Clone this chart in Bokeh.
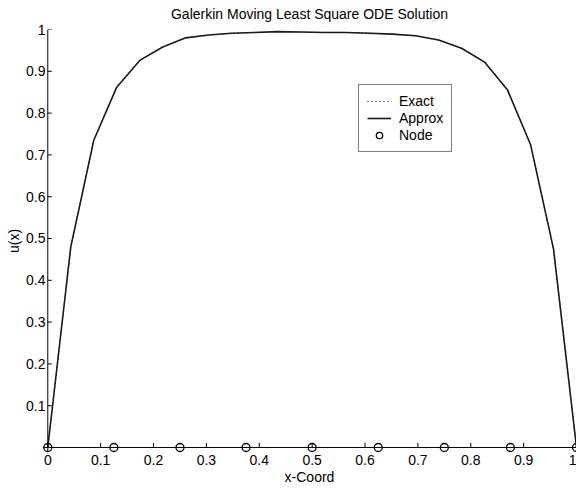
from bokeh.plotting import figure
from bokeh.models import Range1d, FixedTicker, Legend, LegendItem, Span, Title
from bokeh.embed import file_html
from bokeh.resources import INLINE

# ---- data ----
x_coord = [0.0, 0.0435, 0.087, 0.1304, 0.1739, 0.2174, 0.2609, 0.3043,
           0.3478, 0.3913, 0.4348, 0.4783, 0.5217, 0.5652, 0.6087, 0.6522,
           0.6957, 0.7391, 0.7826, 0.8261, 0.8696, 0.9130, 0.9565, 1.0]
approx_u = [0.0, 0.48, 0.735, 0.862, 0.926, 0.958, 0.980, 0.987,
            0.991, 0.993, 0.995, 0.994, 0.993, 0.993, 0.991, 0.989,
            0.985, 0.975, 0.955, 0.922, 0.855, 0.725, 0.475, 0.0]
exact_u = [0.0, 0.48, 0.735, 0.862, 0.926, 0.958, 0.980, 0.987,
           0.991, 0.993, 0.995, 0.994, 0.993, 0.993, 0.991, 0.989,
           0.985, 0.975, 0.955, 0.922, 0.855, 0.725, 0.475, 0.0]
node_x = [0.0, 0.125, 0.25, 0.375, 0.5, 0.625, 0.75, 0.875, 1.0]
node_u = [0.0, 0.0, 0.0, 0.0, 0.0, 0.0, 0.0, 0.0, 0.0]

x_ticks = [0.0, 0.1, 0.2, 0.3, 0.4, 0.5, 0.6, 0.7, 0.8, 0.9, 1.0]
x_tick_labels = ["0", "0.1", "0.2", "0.3", "0.4", "0.5", "0.6", "0.7", "0.8", "0.9", "1"]
y_ticks = [0.1, 0.2, 0.3, 0.4, 0.5, 0.6, 0.7, 0.8, 0.9, 1.0]
y_tick_labels = ["0.1", "0.2", "0.3", "0.4", "0.5", "0.6", "0.7", "0.8", "0.9", "1"]

title_text = "Galerkin Moving Least Square ODE Solution"
x_label = "x-Coord"
y_label = "u(x)"
legend_labels = ["Exact", "Approx", "Node"]

FONT = "Liberation Sans"
X_TICK_LEN = 0.011   # inward tick length (data units, ~5px)
Y_TICK_LEN = 0.0076  # inward tick length (data units, ~4px)

p = figure(width=576, height=490,
           x_range=Range1d(-0.01, 1.0), y_range=Range1d(-0.012, 1.0),
           output_backend="svg", toolbar_location=None,
           min_border_left=42, min_border_right=0,
           min_border_top=29, min_border_bottom=38)

p.title.text = title_text
p.title.align = "center"
p.title.text_font = FONT
p.title.text_font_size = "14px"
p.title.text_font_style = "normal"
p.title.text_color = "black"
p.title.standoff = 0
# empty spacer between the title and the plot frame
p.add_layout(Title(text=" ", text_font_size="6px", standoff=0), "above")

p.xgrid.visible = False
p.ygrid.visible = False
p.outline_line_color = None
p.background_fill_color = "white"
p.border_fill_color = "white"

for ax in (p.xaxis[0], p.yaxis[0]):
    ax.axis_line_color = None
    ax.major_tick_line_color = None
    ax.minor_tick_line_color = None
    ax.major_tick_in = 0
    ax.major_tick_out = 0
    ax.major_label_text_font = FONT
    ax.major_label_text_font_size = "14px"
    ax.major_label_text_color = "black"
    ax.axis_label_text_font = FONT
    ax.axis_label_text_font_size = "14px"
    ax.axis_label_text_font_style = "normal"
    ax.axis_label_text_color = "black"

p.xaxis.ticker = FixedTicker(ticks=x_ticks)
p.xaxis.major_label_overrides = {t: l for t, l in zip(x_ticks, x_tick_labels)}
p.xaxis.major_label_standoff = 2
p.xaxis.axis_label = x_label
p.xaxis.axis_label_standoff = 1
p.yaxis.ticker = FixedTicker(ticks=y_ticks)
p.yaxis.major_label_overrides = {t: l for t, l in zip(y_ticks, y_tick_labels)}
p.yaxis.major_label_standoff = -3
p.yaxis.axis_label = y_label
p.yaxis.axis_label_standoff = 1

# axis lines through the data origin
p.add_layout(Span(location=0, dimension="width", line_color="black", line_width=1))
p.add_layout(Span(location=0, dimension="height", line_color="black", line_width=1))
# inward ticks
p.segment(x0=x_ticks, y0=[0.0] * len(x_ticks), x1=x_ticks,
          y1=[X_TICK_LEN] * len(x_ticks), line_color="black", line_width=1)
p.segment(x0=[0.0] * len(y_ticks), y0=y_ticks, x1=[Y_TICK_LEN] * len(y_ticks),
          y1=y_ticks, line_color="black", line_width=1)

r_exact = p.line(x_coord, exact_u, line_color="black", line_width=1, line_dash="1 3")
r_approx = p.line(x_coord, approx_u, line_color="#1a1a1a", line_width=1.6)
r_node = p.scatter(node_x, node_u, marker="circle", size=8, fill_color=None,
                   line_color="black", line_width=1.3)

legend = Legend(items=[LegendItem(label=legend_labels[0], renderers=[r_exact]),
                       LegendItem(label=legend_labels[1], renderers=[r_approx]),
                       LegendItem(label=legend_labels[2], renderers=[r_node])],
                location=(316, 300))
legend.border_line_color = "black"
legend.border_line_width = 1
legend.background_fill_alpha = 1
legend.label_text_font = FONT
legend.label_text_font_size = "14px"
legend.label_text_color = "black"
legend.glyph_width = 24
legend.glyph_height = 16
legend.label_height = 16
legend.spacing = 1
legend.padding = 8
legend.label_standoff = 8
legend.margin = 0
p.add_layout(legend)

open("out.html", "w").write(file_html(p, INLINE))
